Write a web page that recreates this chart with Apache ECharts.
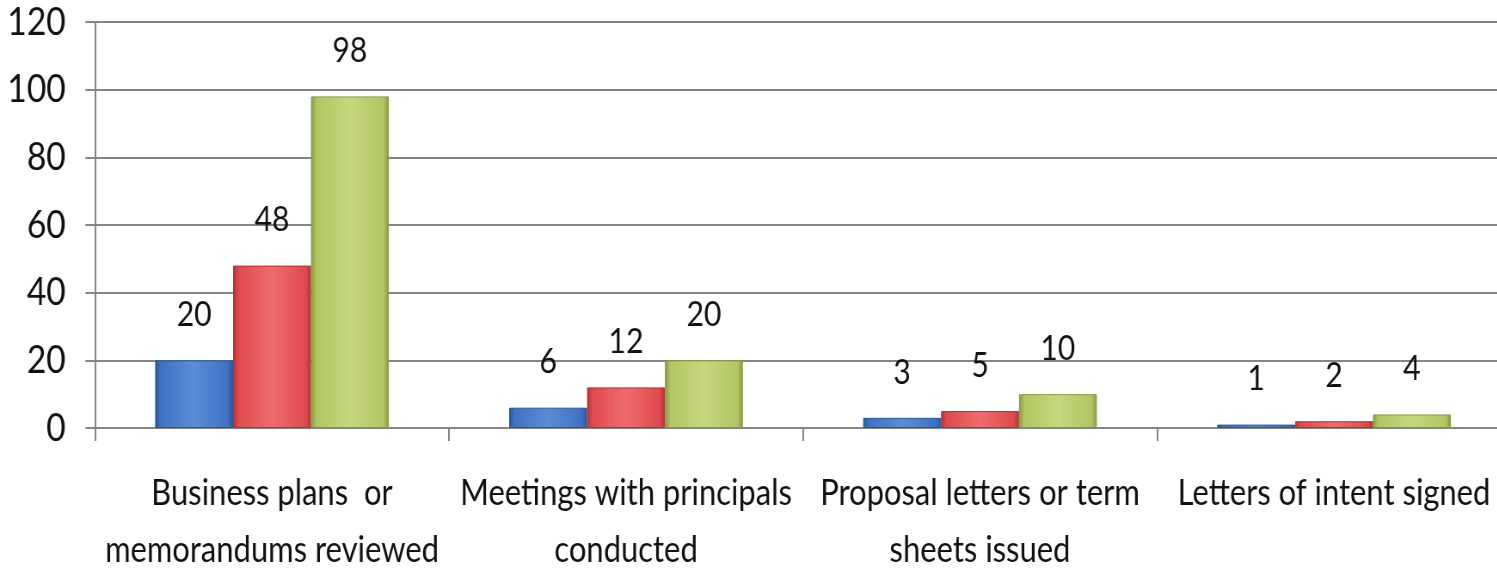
<!DOCTYPE html>
<html>
<head>
<meta charset="utf-8">
<script src="https://cdn.jsdelivr.net/npm/echarts@6/dist/echarts.min.js"></script>
<style>
  html, body { margin: 0; padding: 0; background: #ffffff; overflow: hidden; }
  #wrap { width: 1497px; height: 570px; overflow: hidden; }
  /* drawn wider, then squeezed horizontally for a condensed look */
  #chart { height: 570px; transform-origin: 0 0; }
</style>
</head>
<body>
<div id="wrap"><div id="chart"></div></div>
<script>
// Activity counts per stage, three groups per stage
const categories = [
  'Business plans  or\nmemorandums reviewed',
  'Meetings with principals\nconducted',
  'Proposal letters or term\nsheets issued',
  'Letters of intent signed'
];
const seriesBlue = [20, 6, 3, 1];
const seriesRed = [48, 12, 5, 2];
const seriesGreen = [98, 20, 10, 4];
const yTicks = [0, 20, 40, 60, 80, 100, 120];

const SQUEEZE = 0.86;
const FULL_W = 1497;
const FONT = "Lato, 'Open Sans', sans-serif";
const TEXT = '#111111';

const el = document.getElementById('chart');
el.style.width = Math.round(FULL_W / SQUEEZE) + 'px';
el.style.transform = 'scaleX(' + SQUEEZE + ')';

function barStyle(light, mid, dark) {
  return {
    color: {
      type: 'linear', x: 0, y: 0, x2: 1, y2: 0,
      colorStops: [
        { offset: 0, color: dark },
        { offset: 0.07, color: mid },
        { offset: 0.5, color: light },
        { offset: 0.93, color: mid },
        { offset: 1, color: dark }
      ]
    },
    borderColor: dark,
    borderWidth: 1
  };
}

function makeSeries(data, style) {
  return {
    type: 'bar',
    data: data,
    barGap: '0%',
    barCategoryGap: '34%',
    itemStyle: style,
    label: {
      show: true,
      position: 'top',
      distance: 28,
      fontFamily: FONT,
      fontSize: 35,
      color: TEXT
    }
  };
}

const chart = echarts.init(el, null, { renderer: 'canvas' });
chart.setOption({
  animation: false,
  backgroundColor: '#ffffff',
  grid: {
    left: 95 / SQUEEZE,
    top: 22,
    width: 1416 / SQUEEZE,
    bottom: 142,
    containLabel: false,
    outerBoundsMode: 'none'
  },
  xAxis: {
    type: 'category',
    data: categories,
    axisLine: { lineStyle: { color: '#858585', width: 2 } },
    axisTick: { show: true, length: 13, lineStyle: { color: '#858585', width: 2 } },
    axisLabel: {
      margin: 37,
      fontFamily: FONT,
      fontSize: 36,
      lineHeight: 57,
      color: TEXT,
      interval: 0
    }
  },
  yAxis: {
    type: 'value',
    min: yTicks[0],
    max: yTicks[yTicks.length - 1],
    interval: 20,
    axisLine: { show: true, lineStyle: { color: '#858585', width: 2 } },
    axisTick: { show: true, length: 11, lineStyle: { color: '#858585', width: 2 } },
    splitLine: { lineStyle: { color: '#858585', width: 2 } },
    axisLabel: {
      margin: 34,
      fontFamily: FONT,
      fontSize: 39,
      color: TEXT
    }
  },
  series: [
    makeSeries(seriesBlue, barStyle('#5b8dd6', '#3f72c3', '#2a5597')),
    makeSeries(seriesRed, barStyle('#ef6b6d', '#e04a4e', '#b03337')),
    makeSeries(seriesGreen, barStyle('#c6d87c', '#b1c663', '#85993f'))
  ]
});
</script>
</body>
</html>
